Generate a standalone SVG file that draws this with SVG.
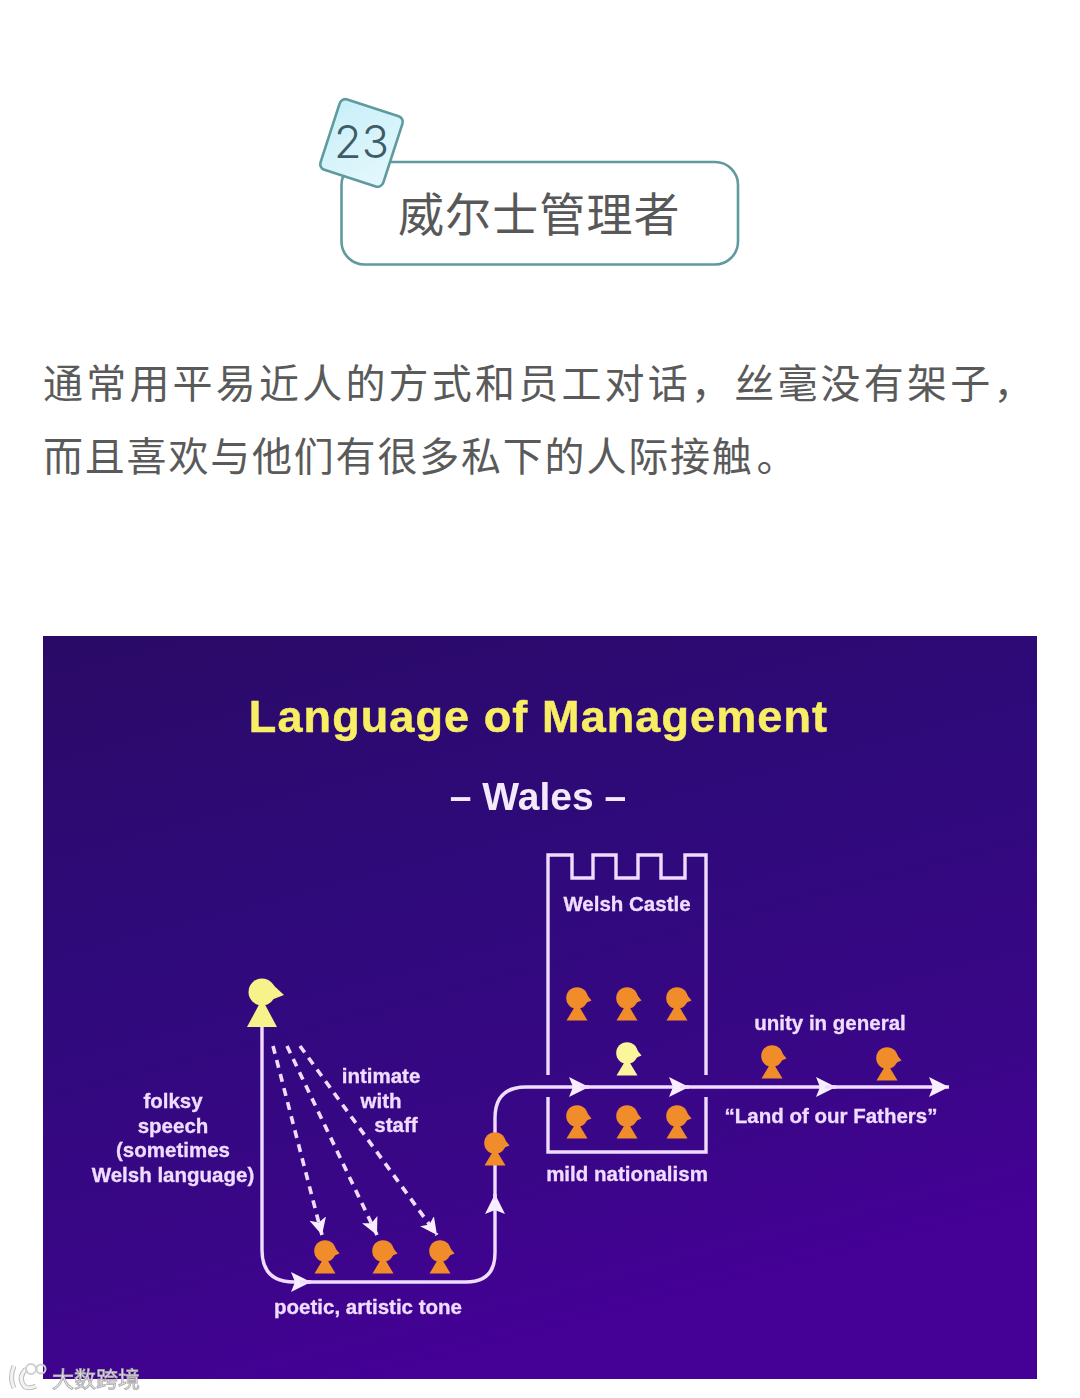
<svg xmlns="http://www.w3.org/2000/svg" width="1080" height="1398" viewBox="0 0 1080 1398">
<style>
.cjk{font-family:"Noto Sans CJK SC","Noto Sans",sans-serif}
.body{font-size:40px;fill:#5a5a5a}
.lb{font-family:"Liberation Sans",Arial,sans-serif;font-weight:700;font-size:20.5px;fill:#efdcff;stroke:#efdcff;stroke-width:0.3;text-anchor:middle}
.wire{fill:none;stroke:#f0dcff;stroke-width:3.4}
.dash{fill:none;stroke:#f0dcff;stroke-width:3.6;stroke-dasharray:8 6.500}
.st{fill:#f08c2a}
</style>
<defs>
<linearGradient id="bg" x1="0" y1="0" x2="0.35" y2="1">
<stop offset="0" stop-color="#2a0a66"/><stop offset="0.4" stop-color="#2e0a7a"/><stop offset="0.8" stop-color="#3a0688"/><stop offset="1" stop-color="#450096"/>
</linearGradient>
<linearGradient id="tag" x1="0" y1="0" x2="1" y2="1"><stop offset="0" stop-color="#c9eff9"/><stop offset="1" stop-color="#e4f8fd"/></linearGradient>
<filter id="soft" x="-2%" y="-2%" width="104%" height="104%"><feGaussianBlur stdDeviation="0.6"/></filter>
<marker id="ah" markerUnits="userSpaceOnUse" markerWidth="22" markerHeight="22" refX="20" refY="10" orient="auto">
<path d="M0,0 L20,10 L0,20 L4,10 Z" fill="#f8eeff"/>
</marker>
<marker id="ahd" markerUnits="userSpaceOnUse" markerWidth="20" markerHeight="20" refX="17" refY="8.500" orient="auto">
<path d="M0,0 L17,8.500 L0,17 L4,8.500 Z" fill="#f8eeff"/>
</marker>
<g id="person">
<circle cx="0" cy="0" r="10.800"/>
<path d="M8,-5.500 L14.500,2.500 L6,6 Z"/>
<path d="M0,5 L10.500,22.500 L-10.500,22.500 Z"/>
</g>
</defs>
<rect width="1080" height="1398" fill="#ffffff"/>

<g id="heading">
<rect x="341.500" y="162" width="396.500" height="102.500" rx="23" fill="#fff" stroke="#5f9a9e" stroke-width="2.600"/>
<text class="cjk" x="398" y="231" font-size="46" letter-spacing="1.100" fill="#585858">威尔士管理者</text>
</g>
<g id="tag-23">
<rect x="-33" y="-37" width="66" height="74" rx="6" transform="translate(361.500 143) rotate(18)" fill="url(#tag)" stroke="#5f9a9e" stroke-width="2.600"/>
<text x="361.500" y="158" font-family="Inter,'Open Sans',sans-serif" font-weight="300" font-size="45" fill="#3f5c66" text-anchor="middle">23</text>
</g>

<g id="paragraph">
<text class="cjk body" x="43" y="398" letter-spacing="3.200">通常用平易近人的方式和员工对话，丝毫没有架子，</text>
<text class="cjk body" x="43" y="471" letter-spacing="1.800">而且喜欢与他们有很多私下的人际接触<tspan dx="3">。</tspan></text>
</g>

<rect id="panel" x="43" y="636" width="994" height="743" fill="url(#bg)"/>

<g filter="url(#soft)">
<g id="titles">
<text x="538.500" y="732" font-family="'Liberation Sans',Arial,sans-serif" font-weight="700" font-size="45" letter-spacing="1.100" fill="#f7ee63" stroke="#f7ee63" stroke-width="0.500" text-anchor="middle">Language of Management</text>
<text x="538" y="810" font-family="'Liberation Sans',Arial,sans-serif" font-weight="700" font-size="39" fill="#f3e9fb" text-anchor="middle">– Wales –</text>
</g>

<g id="castle">
<path class="wire" d="M548,1075 V855 H572 V878 H593 V855 H616 V878 H638 V855 H661 V878 H685 V855 H706 V1075 M548,1097 V1152 H706 V1097"/>
<text class="lb" x="627" y="911">Welsh Castle</text>
</g>

<g id="connectors">
<path class="wire" d="M262,1026 V1250 Q262,1282 294,1282 H311" marker-end="url(#ah)"/>
<path class="wire" d="M300,1282 H466 Q495,1282 495,1253 V1194" marker-end="url(#ah)"/>
<path class="wire" d="M495,1200 V1118 Q495,1087 526,1087 H589" marker-end="url(#ah)"/>
<path class="wire" d="M580,1087 H689" marker-end="url(#ah)"/>
<path class="wire" d="M680,1087 H836" marker-end="url(#ah)"/>
<path class="wire" d="M825,1087 H949" marker-end="url(#ah)"/>
<path class="dash" d="M273,1046 L322,1235" marker-end="url(#ahd)"/>
<path class="dash" d="M287,1046 L377,1235" marker-end="url(#ahd)"/>
<path class="dash" d="M300,1046 L437,1235" marker-end="url(#ahd)"/>
</g>

<g id="leader" fill="#f8f28a">
<circle cx="262" cy="992" r="13.500"/>
<path d="M271,983 L284,995 L271,1000 Z"/>
<path d="M262,999 L277,1027 L247,1027 Z"/>
</g>
<g id="castle-leader"><use href="#person" transform="translate(627 1053)" fill="#fbf59c"/></g>
<g id="staff-1"><use href="#person" class="st" transform="translate(325 1251)"/></g>
<g id="staff-2"><use href="#person" class="st" transform="translate(383 1251)"/></g>
<g id="staff-3"><use href="#person" class="st" transform="translate(440 1251)"/></g>
<g id="stem-person"><use href="#person" class="st" transform="translate(495 1143)"/></g>
<g id="castle-1"><use href="#person" class="st" transform="translate(577 998)"/></g>
<g id="castle-2"><use href="#person" class="st" transform="translate(627 998)"/></g>
<g id="castle-3"><use href="#person" class="st" transform="translate(677 998)"/></g>
<g id="castle-4"><use href="#person" class="st" transform="translate(577 1116)"/></g>
<g id="castle-5"><use href="#person" class="st" transform="translate(627 1116)"/></g>
<g id="castle-6"><use href="#person" class="st" transform="translate(677 1116)"/></g>
<g id="out-1"><use href="#person" class="st" transform="translate(772 1056)"/></g>
<g id="out-2"><use href="#person" class="st" transform="translate(887 1058)"/></g>

<g id="labels">
<text class="lb" x="173" y="1108">folksy</text>
<text class="lb" x="173" y="1133">speech</text>
<text class="lb" x="173" y="1157">(sometimes</text>
<text class="lb" x="173" y="1182">Welsh language)</text>
<text class="lb" x="381" y="1083">intimate</text>
<text class="lb" x="381" y="1108">with</text>
<text class="lb" x="396" y="1132">staff</text>
<text class="lb" x="368" y="1314">poetic, artistic tone</text>
<text class="lb" x="627" y="1181">mild nationalism</text>
<text class="lb" x="830" y="1030">unity in general</text>
<text class="lb" x="831" y="1123">“Land of our Fathers”</text>
</g>
</g>

<g id="watermark" filter="url(#soft)">
<path d="M14,1366 Q9,1378 14,1388" fill="none" stroke="#bdbdbd" stroke-width="5"/>
<path d="M26,1369 Q17,1378 25,1387 Q30,1389 36,1386" fill="none" stroke="#bdbdbd" stroke-width="5"/>
<path d="M14,1366 Q9,1378 14,1388" fill="none" stroke="#f2f2f2" stroke-width="3"/>
<path d="M26,1369 Q17,1378 25,1387 Q30,1389 36,1386" fill="none" stroke="#f2f2f2" stroke-width="3"/>
<circle cx="31" cy="1369" r="5" fill="none" stroke="#cfcfcf" stroke-width="2"/>
<circle cx="41" cy="1369" r="4.500" fill="none" stroke="#cfcfcf" stroke-width="2"/>
<text class="cjk" x="52" y="1387" font-size="22" fill="#e8e4ee" stroke="#a9a9a9" stroke-width="0.800">大数跨境</text>
</g>
</svg>
